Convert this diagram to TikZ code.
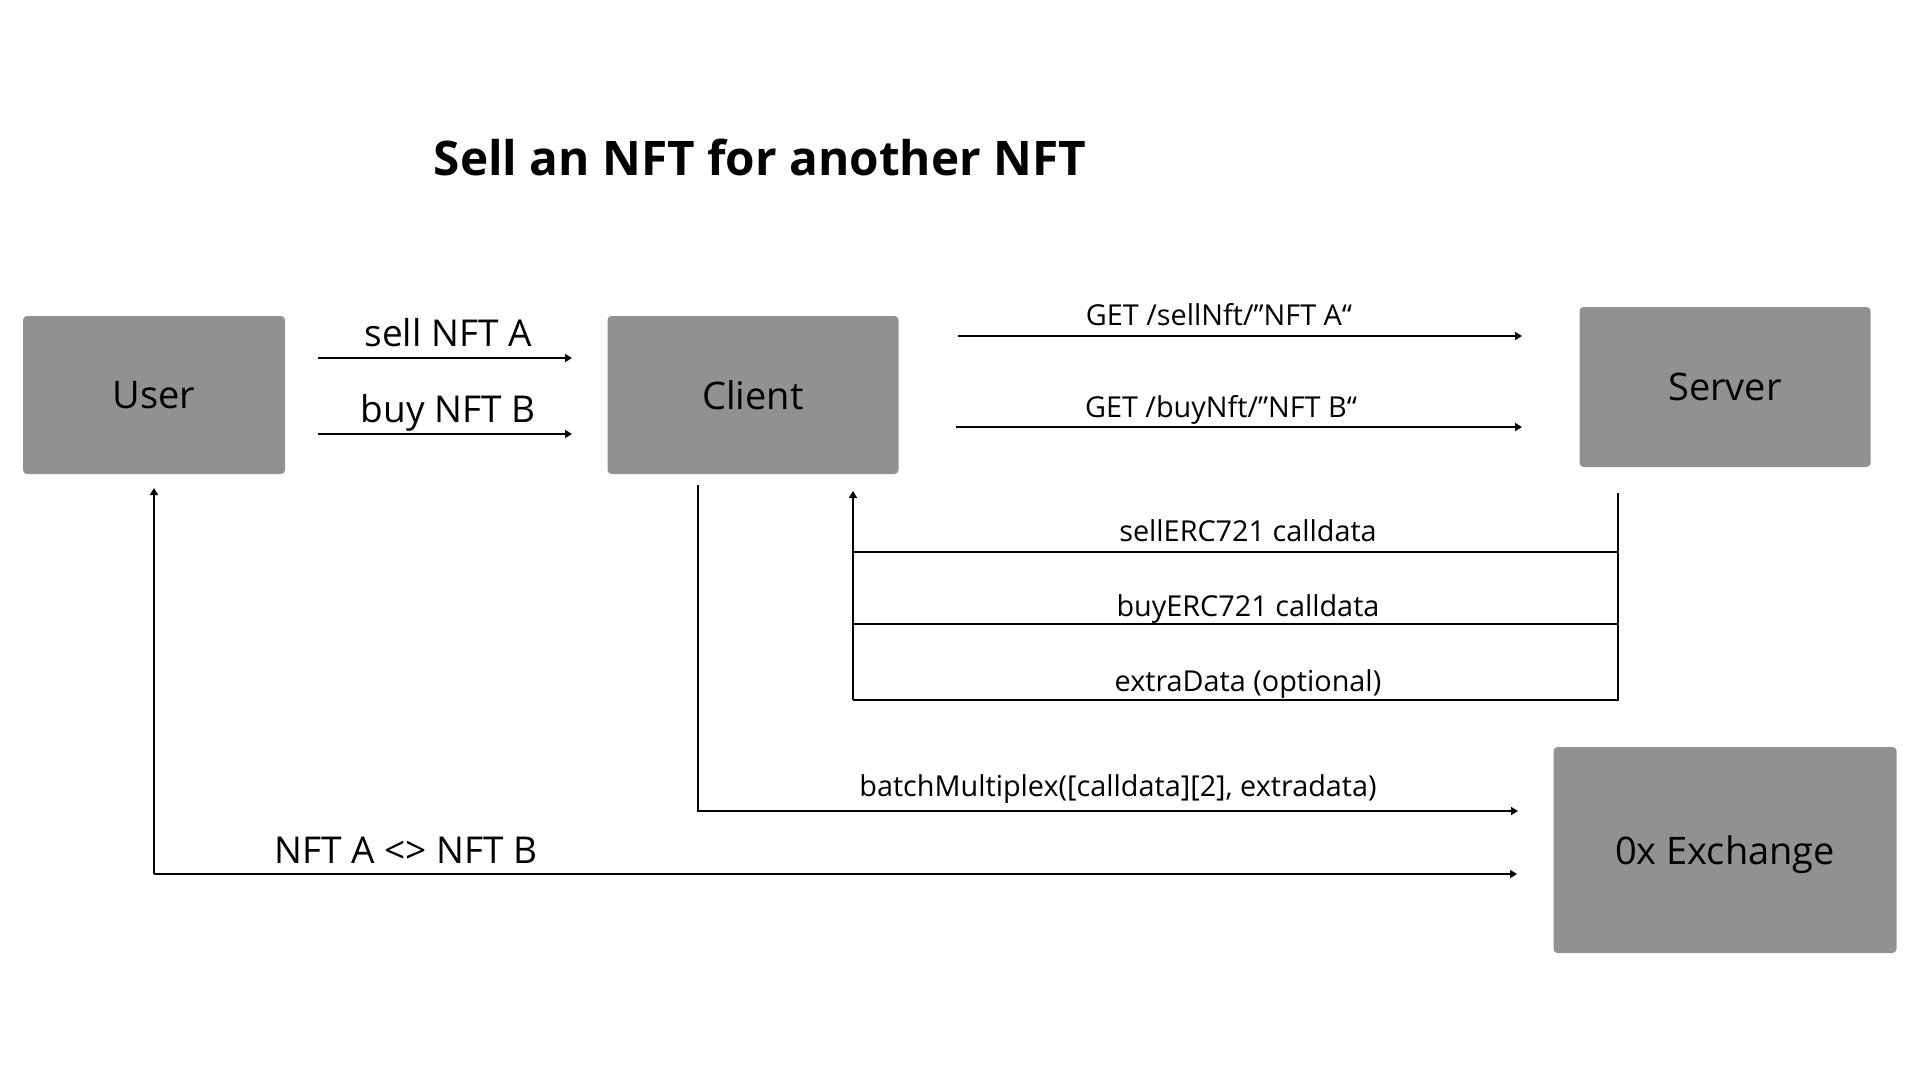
\documentclass[tikz,border=0pt]{standalone}
\usepackage{fontspec}
\setmainfont{Open Sans}
\usetikzlibrary{arrows.meta}
\definecolor{boxgray}{HTML}{919191}
\tikzset{
  box/.style={fill=boxgray, rounded corners=4pt, inner sep=0pt, font=\fontsize{38}{44}\selectfont},
  bigl/.style={font=\fontsize{37}{44}\selectfont, inner sep=0pt},
  smalll/.style={font=\fontsize{28.8}{34}\selectfont, inner sep=0pt},
  conn/.style={line width=2pt},
  arr/.style={conn, -{Triangle[length=7pt,width=8pt]}},
}
\begin{document}
\begin{tikzpicture}[x=1pt,y=-1pt]
\useasboundingbox (0,0) rectangle (1920,1080);
\fill[white] (0,0) rectangle (1920,1080);
% title
\node[font=\fontsize{47.7}{56}\selectfont\bfseries, inner sep=0pt] (title) at (760,157) {Sell an NFT for another NFT};
% boxes
\node[box, minimum width=262pt, minimum height=158pt] (user) at (154,395) {User};
\node[box, minimum width=291pt, minimum height=158pt] (client) at (753,395) {Client};
\node[box, minimum width=291pt, minimum height=160pt] (server) at (1725,387) {Server};
\node[box, minimum width=343pt, minimum height=206pt, text depth=0pt] (ex) at (1725,850) {0x Exchange};
% user -> client
\coordinate (s1) at (318,358); \coordinate (s2) at (572,358);
\coordinate (b1) at (318,434); \coordinate (b2) at (572,434);
\draw[arr] (s1) -- (s2);
\draw[arr] (b1) -- (b2);
\node[bigl] (lsell) at (448,333) {sell NFT A};
\node[bigl] (lbuy) at (448,413) {buy NFT B};
% client -> server
\coordinate (g1) at (958,336); \coordinate (g2) at (1522,336);
\coordinate (h1) at (956,427); \coordinate (h2) at (1522,427);
\draw[arr] (g1) -- (g2);
\draw[arr] (h1) -- (h2);
\node[smalll] (lget1) at (1219,315) {GET /sellNft/”NFT A“};
\node[smalll] (lget2) at (1221,410) {GET /buyNft/”NFT B“};
% server -> client
\coordinate (r0) at (1618,493);
\coordinate (r1) at (1618,552); \coordinate (l1) at (853,552);
\coordinate (r2) at (1618,624); \coordinate (l2) at (853,624);
\coordinate (r3) at (1618,700); \coordinate (l3) at (853,700);
\coordinate (rt) at (853,491);
\draw[conn] (r0) -- (r3) -- (l3);
\draw[conn] (r1) -- (l1);
\draw[conn] (r2) -- (l2);
\draw[arr] (l3) -- (rt);
\node[smalll] (lr1) at (1248,531) {sellERC721 calldata};
\node[smalll] (lr2) at (1248,609) {buyERC721 calldata};
\node[smalll] (lr3) at (1248,684) {extraData (optional)};
% client -> exchange
\coordinate (c0) at (698,485); \coordinate (c1) at (698,811); \coordinate (c2) at (1518,811);
\draw[arr] (c0) -- (c1) -- (c2);
\node[smalll] (lbatch) at (1118,789) {batchMultiplex([calldata][2], extradata)};
% exchange -> user
\coordinate (e0) at (154,874); \coordinate (e1) at (154,488); \coordinate (e2) at (1517,874);
\draw[arr] (e0) -- (e1);
\draw[arr] (e0) -- (e2);
\node[bigl] (lswap) at (406,850) {NFT A <> NFT B};
\end{tikzpicture}
\end{document}
